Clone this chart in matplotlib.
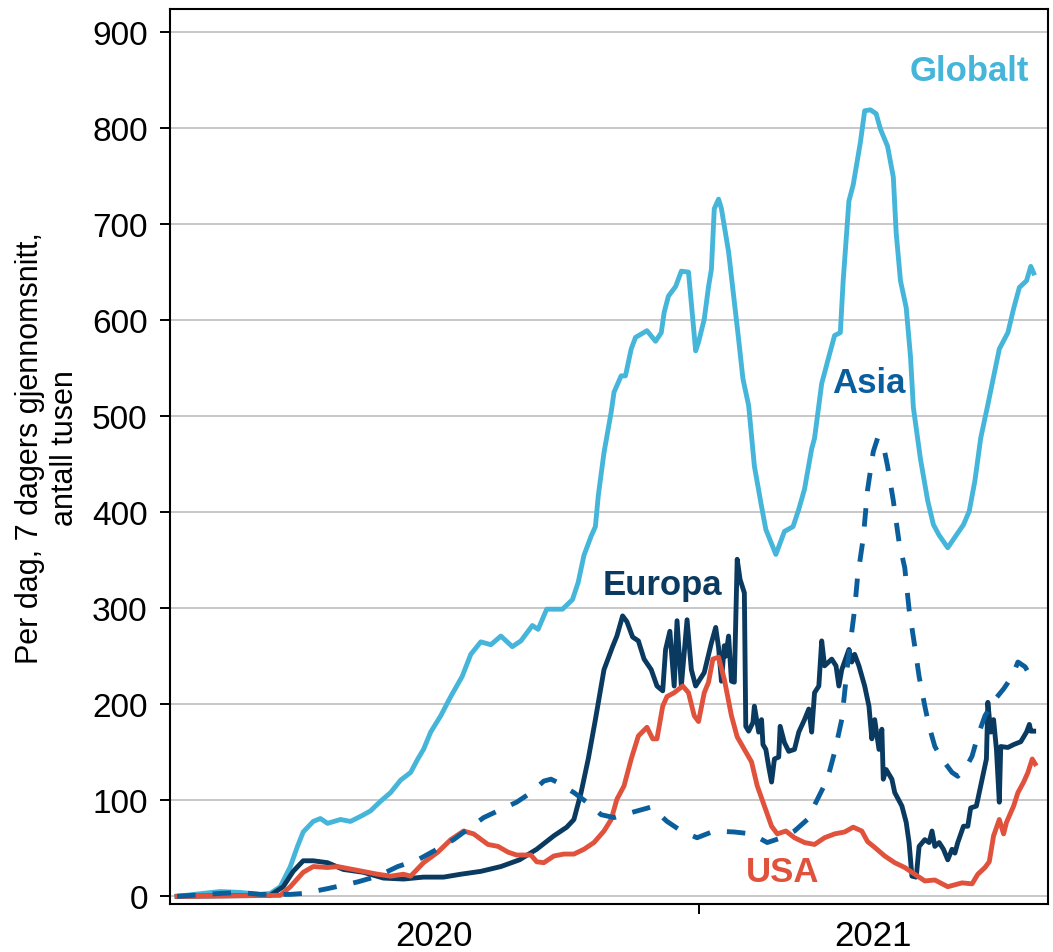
import numpy as np
import matplotlib
matplotlib.use("Agg")
import matplotlib.pyplot as plt
import matplotlib.dates as mdates

plt.rcParams['font.family'] = ['Liberation Sans', 'DejaVu Sans']

# Days since 2020-01-01, values in thousands (7-day avg daily cases)
base_date = np.datetime64('2020-01-01')

glob_days = [2, 32, 46, 60, 67, 74, 81, 86, 90, 97, 102, 107, 116, 123, 131, 137, 144, 151, 158, 165,
             170, 174, 179, 186, 193, 201, 207, 214, 221, 228, 236, 242, 250, 254, 260, 271, 278, 282,
             286, 291, 294, 296, 300, 305, 307, 312, 315, 319, 322, 330, 336, 340, 342, 345, 350, 354,
             359, 362, 364, 366, 370, 373, 375, 377, 380, 382, 387, 390, 394, 397, 401, 405, 410, 413,
             420, 426, 432, 436, 440, 445, 447, 452, 457, 461, 465, 467, 471, 474, 479, 482, 486, 490,
             493, 498, 502, 504, 507, 511, 514, 516, 521, 526, 530, 534, 540, 545, 551, 555, 559, 563,
             568, 572, 576, 582, 586, 590, 595, 598, 600]
glob_vals = [0, 5, 4, 2, 3, 10, 31, 52, 67, 78, 81, 76, 80, 78, 84, 89, 99, 108, 121, 129,
             143, 153, 171, 188, 208, 229, 252, 265, 262, 271, 260, 266, 282, 278, 299, 299, 309, 327,
             355, 375, 385, 417, 462, 504, 525, 542, 542, 570, 582, 589, 578, 587, 608, 625, 635, 651,
             650, 601, 568, 577, 601, 635, 653, 716, 726, 716, 671, 632, 580, 539, 511, 448, 406, 382,
             356, 380, 385, 403, 424, 466, 477, 534, 562, 584, 587, 641, 724, 741, 785, 818, 819, 815,
             799, 781, 749, 691, 641, 613, 562, 509, 455, 412, 387, 376, 363, 374, 387, 401, 433, 477,
             512, 541, 570, 587, 612, 634, 641, 656, 649]

eur_days = [2, 67, 76, 83, 90, 97, 107, 118, 132, 146, 160, 174, 188, 200, 214, 228, 241, 253, 265,
            274, 279, 284, 289, 294, 300, 306, 309, 313, 316, 320, 324, 328, 333, 337, 341, 343, 346,
            349, 351, 354, 358, 361, 364, 370, 375, 378, 380, 382, 384, 385, 387, 389, 391, 393, 395,
            398, 399, 401, 404, 405, 408, 410, 411, 413, 415, 417, 419, 422, 423, 426, 429, 433, 436,
            440, 443, 445, 447, 450, 452, 454, 459, 462, 464, 466, 471, 473, 475, 478, 482, 485, 487,
            489, 492, 494, 495, 497, 501, 503, 508, 511, 513, 515, 518, 520, 524, 527, 529, 531, 534,
            537, 540, 543, 545, 547, 551, 554, 556, 560, 562, 565, 567, 568, 570, 572, 574, 576, 577,
            582, 586, 591, 595, 597, 598, 600]
eur_vals = [0, 1, 10, 26, 37, 37, 35, 28, 25, 19, 18, 20, 20, 23, 26, 31, 38, 49, 63,
            72, 80, 108, 143, 184, 236, 260, 271, 292, 286, 270, 266, 247, 236, 219, 214, 257, 276,
            219, 287, 219, 288, 236, 219, 233, 264, 280, 259, 224, 261, 250, 271, 224, 223, 351, 330,
            316, 177, 172, 181, 198, 171, 184, 158, 153, 135, 119, 143, 145, 177, 160, 151, 153, 171,
            184, 195, 171, 212, 219, 266, 240, 247, 240, 219, 236, 257, 244, 252, 240, 219, 198, 164,
            184, 153, 174, 122, 132, 122, 108, 94, 77, 56, 21, 20, 52, 59, 56, 68, 52, 56,
            49, 38, 49, 45, 56, 73, 73, 92, 94, 108, 129, 143, 202, 171, 184, 153, 98, 156,
            155, 158, 161, 171, 179, 172, 172]

usa_days = [2, 74, 81, 90, 97, 107, 114, 128, 142, 151, 160, 165, 174, 184, 193, 202, 209, 219, 226,
            233, 239, 249, 253, 258, 265, 272, 279, 286, 293, 300, 305, 309, 314, 319, 324, 330, 334,
            337, 341, 344, 349, 355, 359, 363, 366, 370, 373, 376, 380, 384, 389, 393, 398, 403, 407,
            412, 417, 421, 427, 433, 440, 447, 454, 461, 468, 474, 480, 484, 489, 496, 503, 510, 517,
            524, 531, 540, 550, 557, 561, 566, 569, 572, 576, 579, 581, 586, 589, 593, 596, 599, 601]
usa_vals = [0, 1, 10, 25, 31, 30, 31, 27, 23, 21, 23, 21, 35, 46, 59, 68, 65, 54, 52,
            46, 43, 43, 36, 35, 42, 44, 44, 49, 56, 68, 80, 101, 115, 143, 167, 176, 164,
            164, 198, 208, 212, 219, 212, 188, 182, 212, 223, 247, 249, 226, 188, 166, 153, 140, 115,
            94, 73, 65, 68, 61, 56, 54, 61, 65, 67, 72, 68, 57, 51, 42, 35, 30, 23,
            16, 17, 10, 14, 13, 23, 30, 36, 63, 80, 65, 77, 94, 108, 119, 129, 143, 138]

asia_days = [2, 32, 46, 60, 81, 90, 107, 128, 142, 156, 170, 181, 195, 205, 216, 226, 239, 249, 258,
             263, 267, 279, 288, 298, 307, 321, 333, 344, 354, 365, 377, 391, 403, 414, 424, 433, 442,
             449, 456, 461, 466, 470, 475, 477, 481, 484, 488, 491, 495, 498, 502, 506, 510, 513, 517,
             520, 524, 527, 531, 536, 543, 547, 552, 557, 561, 566, 573, 579, 585, 589, 594, 599, 601]
asia_vals = [0, 3, 4, 2, 2, 3, 8, 15, 21, 31, 38, 47, 59, 70, 82, 89, 98, 108, 120,
             122, 119, 108, 98, 85, 82, 88, 93, 78, 68, 61, 68, 67, 65, 56, 61, 68, 80,
             101, 122, 150, 184, 240, 299, 332, 373, 423, 463, 477, 470, 448, 412, 369, 342, 299, 260,
             229, 198, 177, 156, 143, 129, 125, 132, 146, 167, 188, 205, 216, 229, 244, 239, 226, 223]

series_labels = ['Globalt', 'Europa', 'USA', 'Asia']
year_labels = ['2020', '2021']
y_ticks = [0, 100, 200, 300, 400, 500, 600, 700, 800, 900]
ylabel_text = 'Per dag, 7 dagers gjennomsnitt,\nantall tusen'


def to_dates(days):
    return base_date + np.array(days).astype('timedelta64[D]')


c_glob = '#45B5DA'
c_eur = '#0B3A60'
c_usa = '#E0523C'
c_asia = '#0B5E9C'

fig = plt.figure(figsize=(10.53, 9.53), dpi=100)
ax = fig.add_axes([170 / 1053, 48 / 953, (1048 - 170) / 1053, (905 - 10) / 953])

lw = 3.5
ax.plot(to_dates(glob_days), glob_vals, color=c_glob, lw=lw, zorder=3, solid_joinstyle='round')
ax.plot(to_dates(eur_days), eur_vals, color=c_eur, lw=lw, zorder=4, solid_joinstyle='round')
ax.plot(to_dates(usa_days), usa_vals, color=c_usa, lw=lw, zorder=5, solid_joinstyle='round')
ax.plot(to_dates(asia_days), asia_vals, color=c_asia, lw=lw, zorder=6, dashes=(3.8, 3.5))

x0 = np.datetime64('2019-12-29')
x1 = np.datetime64('2021-09-02')
ax.set_xlim(x0, x1)
ax.set_ylim(-8, 924)

ax.set_yticks(y_ticks)
ax.set_yticklabels([str(v) for v in y_ticks])
ax.yaxis.grid(True, color='#BFBFBF', lw=1.2, zorder=0)
ax.set_axisbelow(True)
ax.tick_params(axis='y', direction='out', length=7, width=1.4, labelsize=24, pad=9, colors='black')

y2021 = np.datetime64('2021-01-01')
ax.set_xticks([y2021])
ax.set_xticklabels([''])
mid20 = x0 + (y2021 - x0) / 2
mid21 = y2021 + (x1 - y2021) / 2
ax.set_xticks([mid20, mid21], minor=True)
ax.set_xticklabels(year_labels, minor=True)
ax.tick_params(axis='x', which='major', direction='out', length=7, width=1.4)
ax.tick_params(axis='x', which='minor', length=0, labelsize=25, pad=11)

for s in ax.spines.values():
    s.set_color('black')
    s.set_linewidth(1.5)

lab_kw = dict(fontsize=25, fontweight='bold', ha='center', va='baseline')
ax.text(to_dates([555])[0], 850, series_labels[0], color=c_glob, **lab_kw)
ax.text(to_dates([341])[0], 315, series_labels[1], color=c_eur, **lab_kw)
ax.text(to_dates([425])[0], 16, series_labels[2], color=c_usa, **lab_kw)
ax.text(to_dates([485])[0], 525, series_labels[3], color=c_asia, **lab_kw)

fig.text(47.5 / 1053, 1 - 448 / 953, ylabel_text, rotation=90, ha='center', va='center',
         multialignment='center', fontsize=22)

fig.savefig('out.png', dpi=100)
